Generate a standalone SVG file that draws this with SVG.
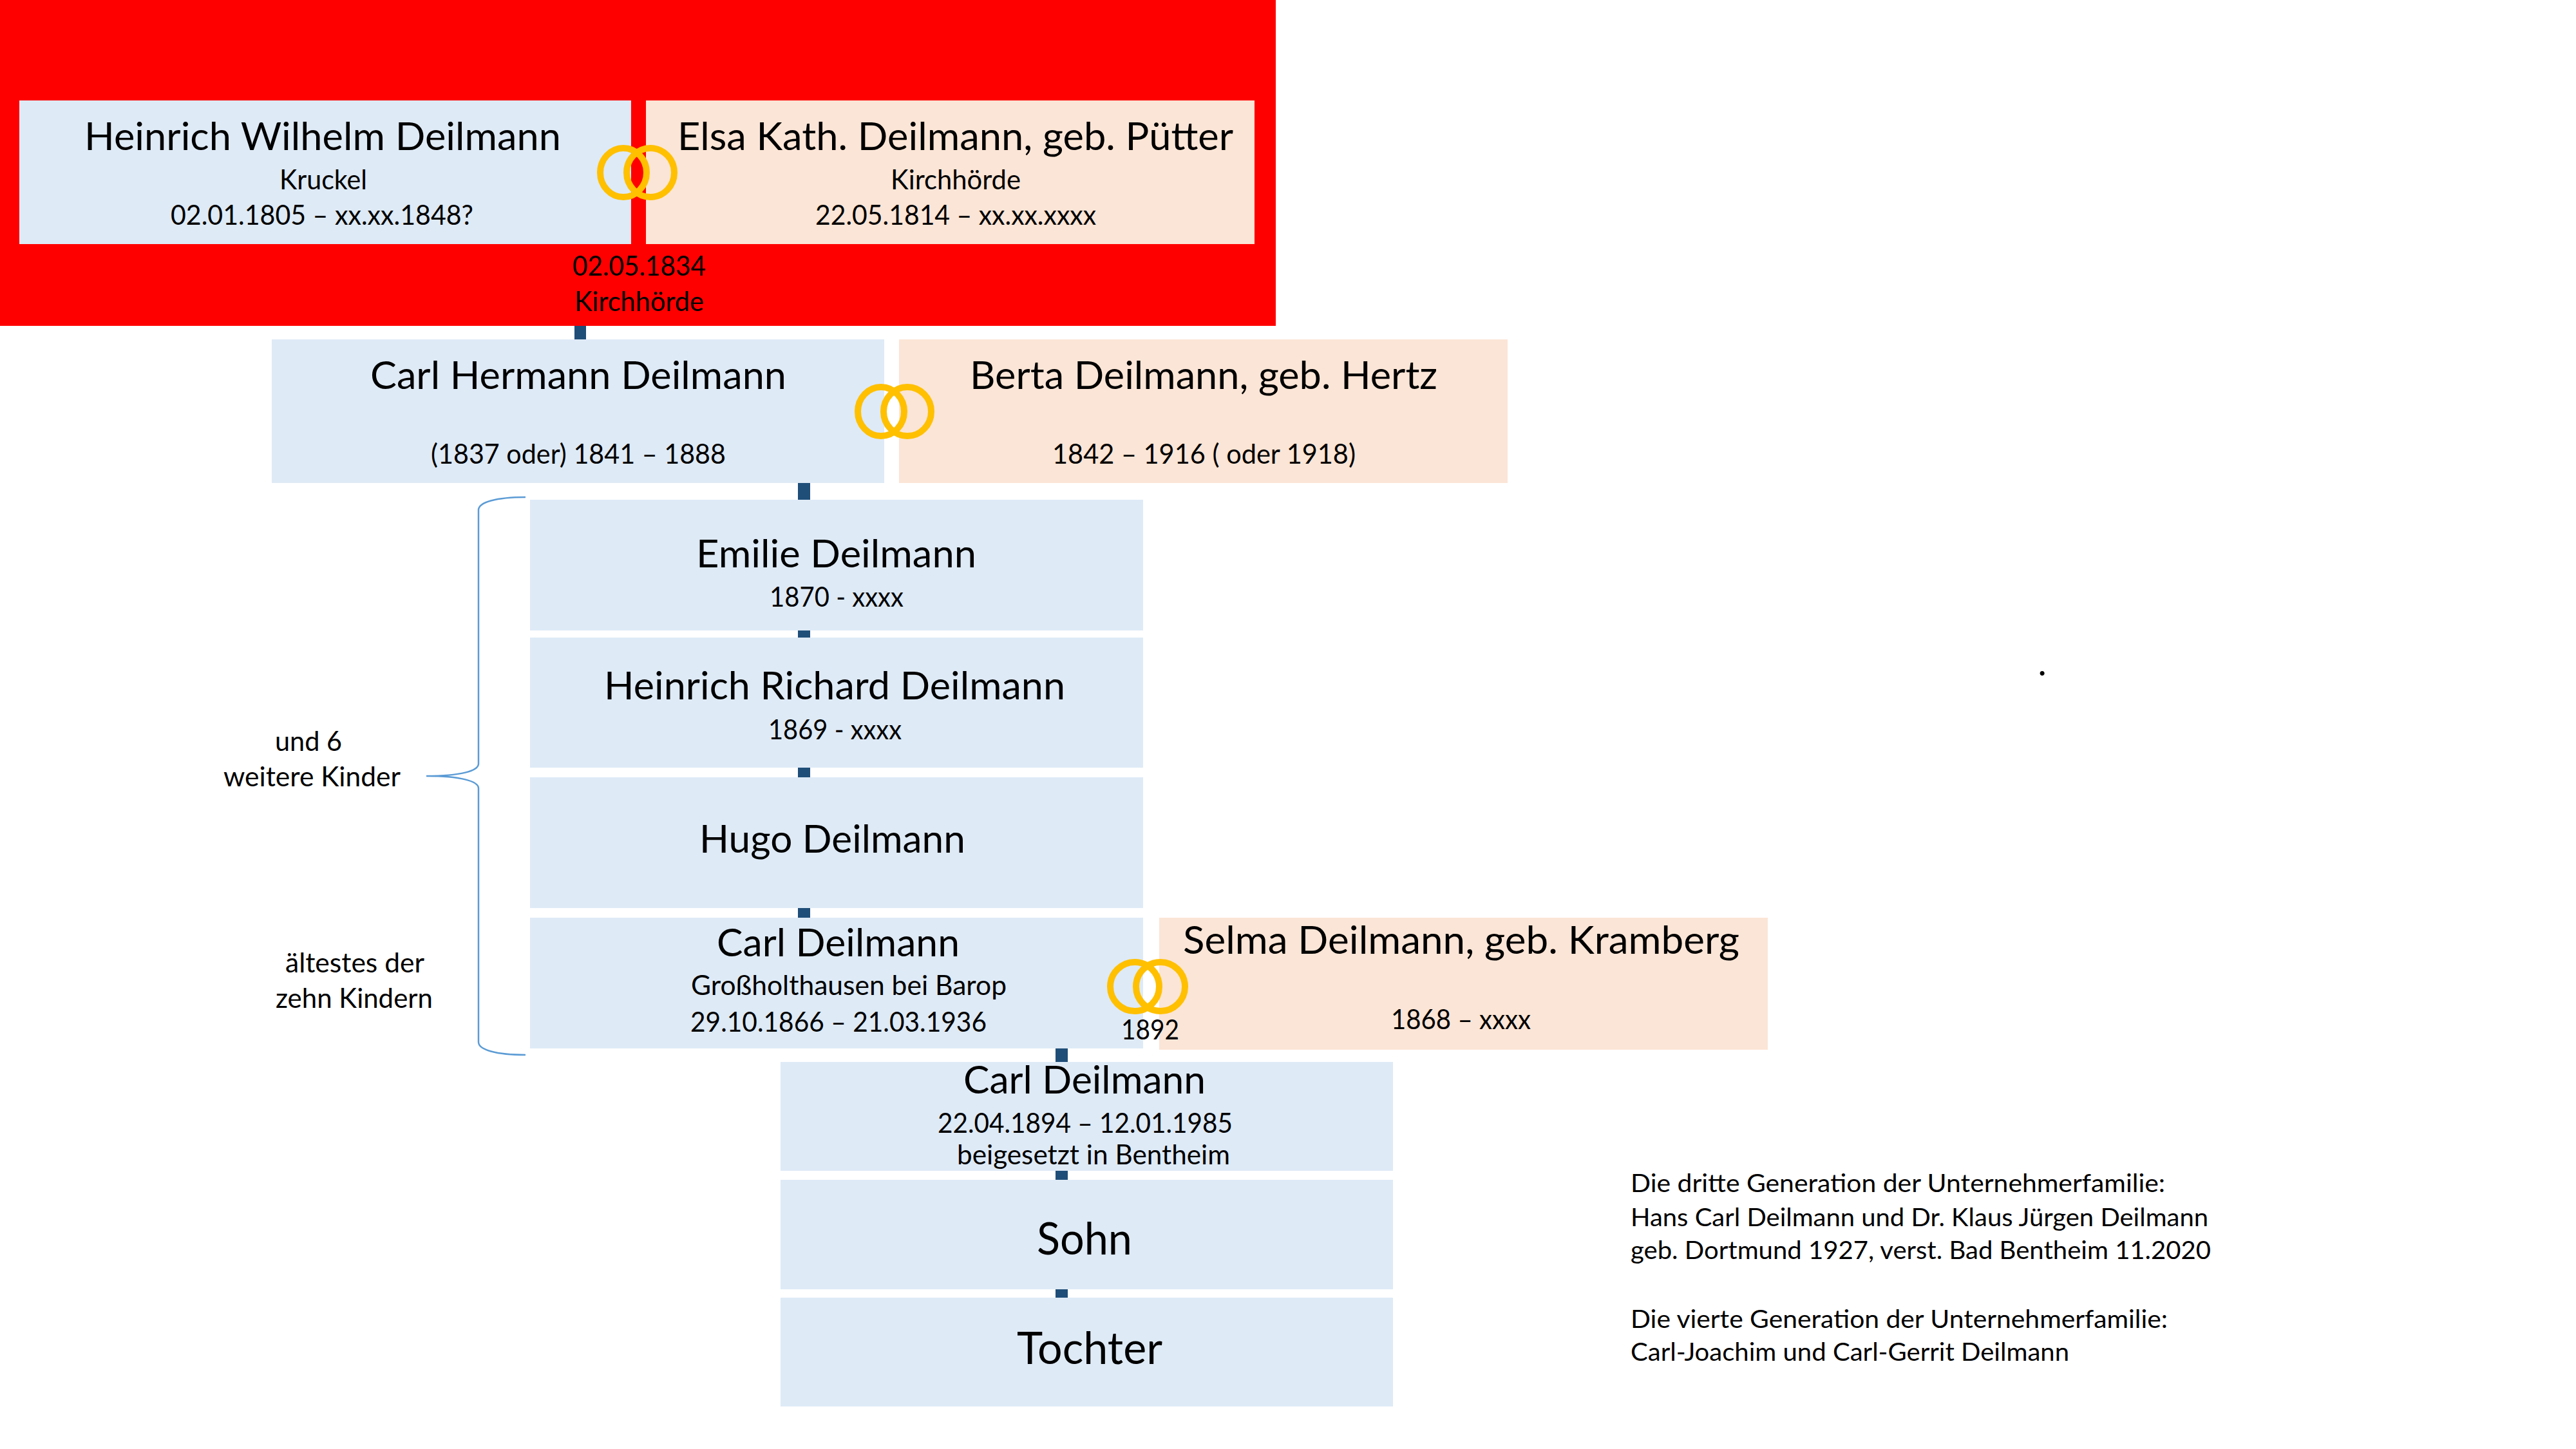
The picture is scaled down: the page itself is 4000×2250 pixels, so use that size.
<svg xmlns="http://www.w3.org/2000/svg" width="4000" height="2250" viewBox="0 0 4000 2250">
<style>
text{font-family:"Lato","Carlito","Open Sans",sans-serif;fill:#000}
.t{font-size:60px}
.s{font-size:42px}
.n{font-size:39px}
.b{font-size:70px}
.d{font-size:56px}
.m{fill:#DEEAF6}
.f{fill:#FBE5D6}
.c{fill:#1F4E79}
.r{fill:none;stroke:#FFC000;stroke-width:10}
.br{fill:none;stroke:#5B9BD5;stroke-width:2.5}
</style>
<rect x="0" y="0" width="1981" height="506" fill="#FF0000"/>
<g id="connectors">
<rect class="c" x="892" y="506" width="18" height="21"/>
<rect class="c" x="1239" y="750" width="19" height="26"/>
<rect class="c" x="1239" y="978" width="19" height="12"/>
<rect class="c" x="1239" y="1192" width="19" height="15"/>
<rect class="c" x="1239" y="1410" width="19" height="15"/>
<rect class="c" x="1639" y="1628" width="19" height="21"/>
<rect class="c" x="1639" y="1818" width="19" height="14"/>
<rect class="c" x="1639" y="2002" width="19" height="13"/>
</g>
<g id="heinrich-wilhelm"><rect class="m" x="30" y="156" width="950" height="223"/>
<text class="t" x="131" y="233" textLength="740" lengthAdjust="spacingAndGlyphs">Heinrich Wilhelm Deilmann</text>
<text class="s" x="434" y="294" textLength="136" lengthAdjust="spacingAndGlyphs">Kruckel</text>
<text class="s" x="265" y="349" textLength="470" lengthAdjust="spacingAndGlyphs">02.01.1805 – xx.xx.1848?</text></g>
<g id="elsa"><rect class="f" x="1003" y="156" width="945" height="223"/>
<text class="t" x="1052" y="233" textLength="863" lengthAdjust="spacingAndGlyphs">Elsa Kath. Deilmann, geb. Pütter</text>
<text class="s" x="1383" y="294" textLength="202" lengthAdjust="spacingAndGlyphs">Kirchhörde</text>
<text class="s" x="1266" y="349" textLength="436" lengthAdjust="spacingAndGlyphs">22.05.1814 – xx.xx.xxxx</text></g>
<g id="rings-1"><ellipse class="r" cx="968" cy="268" rx="36" ry="38"/><ellipse class="r" cx="1010" cy="268" rx="37" ry="38"/></g>
<g id="marriage-1">
<text class="s" x="889" y="428" textLength="207" lengthAdjust="spacingAndGlyphs">02.05.1834</text>
<text class="s" x="892" y="483" textLength="201" lengthAdjust="spacingAndGlyphs">Kirchhörde</text></g>
<g id="carl-hermann"><rect class="m" x="422" y="527" width="951" height="223"/>
<text class="t" x="575" y="604" textLength="646" lengthAdjust="spacingAndGlyphs">Carl Hermann Deilmann</text>
<text class="s" x="669" y="720" textLength="458" lengthAdjust="spacingAndGlyphs">(1837 oder) 1841 – 1888</text></g>
<g id="berta"><rect class="f" x="1396" y="527" width="945" height="223"/>
<text class="t" x="1506" y="604" textLength="726" lengthAdjust="spacingAndGlyphs">Berta Deilmann, geb. Hertz</text>
<text class="s" x="1634" y="720" textLength="471" lengthAdjust="spacingAndGlyphs">1842 – 1916 ( oder 1918)</text></g>
<g id="rings-2"><ellipse class="r" cx="1368" cy="639" rx="36" ry="38"/><ellipse class="r" cx="1409" cy="639" rx="37" ry="38"/></g>
<g id="emilie"><rect class="m" x="823" y="776" width="952" height="203"/>
<text class="t" x="1081" y="881" textLength="435" lengthAdjust="spacingAndGlyphs">Emilie Deilmann</text>
<text class="s" x="1195" y="942" textLength="208" lengthAdjust="spacingAndGlyphs">1870 - xxxx</text></g>
<g id="heinrich-richard"><rect class="m" x="823" y="990" width="952" height="202"/>
<text class="t" x="938" y="1086" textLength="716" lengthAdjust="spacingAndGlyphs">Heinrich Richard Deilmann</text>
<text class="s" x="1193" y="1148" textLength="207" lengthAdjust="spacingAndGlyphs">1869 - xxxx</text></g>
<g id="hugo"><rect class="m" x="823" y="1207" width="952" height="203"/>
<text class="t" x="1086" y="1324" textLength="413" lengthAdjust="spacingAndGlyphs">Hugo Deilmann</text></g>
<g id="carl-1"><rect class="m" x="823" y="1425" width="952" height="203"/>
<text class="t" x="1113" y="1485" textLength="377" lengthAdjust="spacingAndGlyphs">Carl Deilmann</text>
<text class="s" x="1073" y="1545" textLength="490" lengthAdjust="spacingAndGlyphs">Großholthausen bei Barop</text>
<text class="s" x="1072" y="1602" textLength="460" lengthAdjust="spacingAndGlyphs">29.10.1866 – 21.03.1936</text></g>
<g id="selma"><rect class="f" x="1800" y="1425" width="945" height="205"/>
<text class="t" x="1837" y="1481" textLength="864" lengthAdjust="spacingAndGlyphs">Selma Deilmann, geb. Kramberg</text>
<text class="s" x="2160" y="1598" textLength="217" lengthAdjust="spacingAndGlyphs">1868 – xxxx</text></g>
<g id="rings-3"><ellipse class="r" cx="1762" cy="1532" rx="38" ry="38"/><ellipse class="r" cx="1802" cy="1532" rx="38" ry="38"/></g>
<g id="marriage-3"><text class="s" x="1741" y="1614" textLength="90" lengthAdjust="spacingAndGlyphs">1892</text></g>
<g id="carl-2"><rect class="m" x="1212" y="1649" width="951" height="169"/>
<text class="t" x="1496" y="1698" textLength="376" lengthAdjust="spacingAndGlyphs">Carl Deilmann</text>
<text class="s" x="1456" y="1759" textLength="458" lengthAdjust="spacingAndGlyphs">22.04.1894 – 12.01.1985</text>
<text class="s" x="1486" y="1808" textLength="424" lengthAdjust="spacingAndGlyphs">beigesetzt in Bentheim</text></g>
<g id="sohn"><rect class="m" x="1212" y="1832" width="951" height="170"/>
<text class="b" x="1610" y="1948" textLength="148" lengthAdjust="spacingAndGlyphs">Sohn</text></g>
<g id="tochter"><rect class="m" x="1212" y="2015" width="951" height="169"/>
<text class="b" x="1579" y="2118" textLength="226" lengthAdjust="spacingAndGlyphs">Tochter</text></g>
<g id="brace">
<path class="br" d="M816 772C770 772 743 780 743 792L743 1186C743 1197 715 1205 662 1205C715 1205 743 1213 743 1224L743 1618C743 1630 770 1638 816 1638"/>
<text class="s" x="427" y="1166" textLength="104" lengthAdjust="spacingAndGlyphs">und 6</text>
<text class="s" x="347" y="1221" textLength="275" lengthAdjust="spacingAndGlyphs">weitere Kinder</text>
<text class="s" x="443" y="1510" textLength="216" lengthAdjust="spacingAndGlyphs">ältestes der</text>
<text class="s" x="428" y="1565" textLength="244" lengthAdjust="spacingAndGlyphs">zehn Kindern</text>
</g>
<g id="notes">
<text class="n" x="2532" y="1851" textLength="830" lengthAdjust="spacingAndGlyphs">Die dritte Generation der Unternehmerfamilie:</text>
<text class="n" x="2532" y="1904" textLength="897" lengthAdjust="spacingAndGlyphs">Hans Carl Deilmann und Dr. Klaus Jürgen Deilmann</text>
<text class="n" x="2532" y="1955" textLength="901" lengthAdjust="spacingAndGlyphs">geb. Dortmund 1927, verst. Bad Bentheim 11.2020</text>
<text class="n" x="2532" y="2062" textLength="834" lengthAdjust="spacingAndGlyphs">Die vierte Generation der Unternehmerfamilie:</text>
<text class="n" x="2532" y="2113" textLength="681" lengthAdjust="spacingAndGlyphs">Carl-Joachim und Carl-Gerrit Deilmann</text>
</g>
<text class="d" x="3171" y="1049" text-anchor="middle">.</text>
</svg>
